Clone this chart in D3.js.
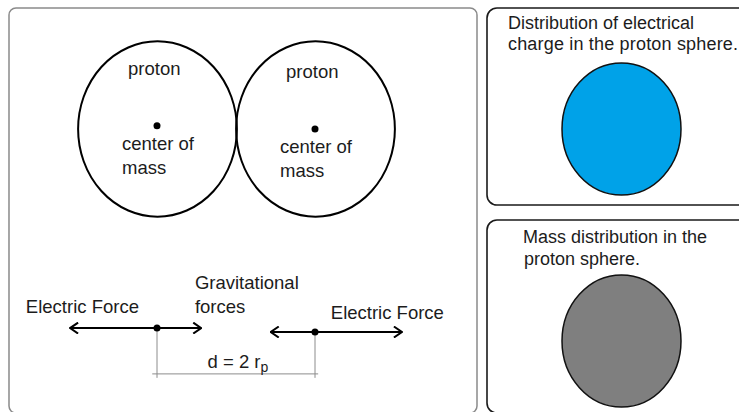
<!DOCTYPE html>
<html>
<head>
<meta charset="utf-8">
<script src="https://cdn.jsdelivr.net/npm/d3@7"></script>
<style>
html, body { margin: 0; padding: 0; background: #fff; overflow: hidden; }
text, tspan { font-family: "Liberation Sans", Arial, sans-serif; fill: #1c1c1c; }
</style>
</head>
<body>
<div id="chart"></div>
<script>
// values in units of the proton radius r_p
var protonCenters = [0, 2];
var protonDrop = [-0.04, 0.0];
var protonLabels = ["proton", "proton"];
var centerLabels = ["center of", "mass"];
var arrowFrom = [-1.1, 1.44];
var arrowTo = [0.56, 3.1];
var arrowLevel = [2.52, 2.57];
var forceLabels = ["Electric Force", "Gravitational", "forces", "Electric Force"];
var distanceText = "d = 2 r";
var distanceSub = "p";
var panelKeys = ["charge", "mass"];
var panelTitles = [
	["Distribution of electrical", "charge in the proton sphere."],
	["Mass distribution in the", "proton sphere."]
];

var W = 739, H = 412;
var svg = d3.select("#chart").append("svg").attr("width", W).attr("height", H);

var marker = svg.append("defs").append("marker")
	.attr("id", "head").attr("viewBox", "0 0 10 12")
	.attr("refX", 9).attr("refY", 6)
	.attr("markerWidth", 10).attr("markerHeight", 12)
	.attr("markerUnits", "userSpaceOnUse")
	.attr("orient", "auto-start-reverse");
marker.append("path").attr("d", "M1,0.5 L9,6 L1,11.5")
	.attr("fill", "none").attr("stroke", "#000").attr("stroke-width", 2);

// left panel
svg.append("rect").attr("x", 9).attr("y", 8).attr("width", 468).attr("height", 405)
	.attr("rx", 7).attr("fill", "none").attr("stroke", "#8a8a8a").attr("stroke-width", 1.5);

var x = d3.scaleLinear().domain([0, 2]).range([157, 315]);
var y = d3.scaleLinear().domain([0, 1]).range([129, 208]);
var ux = x(1) - x(0), uy = y(1) - y(0);

var protons = svg.append("g").selectAll("g").data(protonCenters).join("g");
protons.append("ellipse")
	.attr("cx", function(d){ return x(d) + 0.5; })
	.attr("cy", y(0))
	.attr("rx", ux * 1.005).attr("ry", uy * 1.11)
	.attr("fill", "none").attr("stroke", "#000").attr("stroke-width", 2);
protons.append("circle")
	.attr("cx", function(d){ return x(d); })
	.attr("cy", function(d, i){ return y(protonDrop[i]); })
	.attr("r", 3.5).attr("fill", "#000");
protons.append("text")
	.attr("x", function(d){ return x(d) - 29; })
	.attr("y", function(d, i){ return y(protonDrop[i]) - 51; })
	.attr("font-size", 18.5)
	.text(function(d, i){ return protonLabels[i]; });
protons.each(function(d, i){
	d3.select(this).selectAll("text.c").data(centerLabels).join("text")
		.attr("class", "c")
		.attr("x", x(d) - 35)
		.attr("y", function(t, j){ return y(protonDrop[i]) + 24 + j * 24; })
		.attr("font-size", 18.5)
		.text(function(t){ return t; });
});

// force arrows
var arrows = svg.append("g").selectAll("g").data(protonCenters).join("g");
arrows.append("line")
	.attr("x1", function(d, i){ return x(arrowFrom[i]); })
	.attr("x2", function(d, i){ return x(arrowTo[i]); })
	.attr("y1", function(d, i){ return y(arrowLevel[i]); })
	.attr("y2", function(d, i){ return y(arrowLevel[i]); })
	.attr("stroke", "#000").attr("stroke-width", 2)
	.attr("marker-start", "url(#head)").attr("marker-end", "url(#head)");
arrows.append("line")
	.attr("x1", function(d){ return x(d); })
	.attr("x2", function(d){ return x(d); })
	.attr("y1", function(d, i){ return y(arrowLevel[i]); })
	.attr("y2", y(3.15))
	.attr("stroke", "#8c8c8c").attr("stroke-width", 1);
arrows.append("circle")
	.attr("cx", function(d){ return x(d); })
	.attr("cy", function(d, i){ return y(arrowLevel[i]); })
	.attr("r", 3.5).attr("fill", "#000");

svg.append("line")
	.attr("x1", x(-0.06)).attr("x2", x(2.04))
	.attr("y1", y(3.1)).attr("y2", y(3.1))
	.attr("stroke", "#8c8c8c").attr("stroke-width", 1);

var forcePos = [[-1.66, 2.33], [0.48, 2.03], [0.48, 2.33], [2.2, 2.41]];
svg.append("g").selectAll("text").data(forceLabels).join("text")
	.attr("x", function(d, i){ return x(forcePos[i][0]); })
	.attr("y", function(d, i){ return y(forcePos[i][1]); })
	.attr("font-size", 18.5)
	.text(function(d){ return d; });

var dt = svg.append("text").attr("x", x(0.64)).attr("y", y(3.02)).attr("font-size", 18.5);
dt.append("tspan").text(distanceText);
dt.append("tspan").attr("dy", 4).attr("font-size", 14).attr("fill", "#1c1c1c").text(distanceSub);

// right panels
var fill = d3.scaleOrdinal().domain(panelKeys).range(["#00a2e8", "#7f7f7f"]);
var panelY = d3.scaleOrdinal().domain(panelKeys).range([8, 220]);

var panels = svg.append("g").selectAll("g").data(panelKeys).join("g")
	.attr("transform", function(d){ return "translate(487," + panelY(d) + ")"; });
panels.append("rect")
	.attr("width", 290).attr("height", function(d, i){ return i ? 193 : 197; })
	.attr("rx", 10).attr("fill", "none").attr("stroke", "#1a1a1a").attr("stroke-width", 1.6);
panels.each(function(d, i){
	d3.select(this).selectAll("text").data(panelTitles[i]).join("text")
		.attr("x", function(t, j){ return i ? 36 + j : 21; })
		.attr("y", function(t, j){ return i ? 23 + j * 22 : 21 + j * 21; })
		.attr("font-size", 18)
		.attr("letter-spacing", function(t, j){ return (!i && j) ? 0.18 : 0; })
		.text(function(t){ return t; });
});
panels.append("ellipse")
	.attr("cx", 134.5).attr("cy", 121)
	.attr("rx", 59.5).attr("ry", 66)
	.attr("fill", function(d){ return fill(d); })
	.attr("stroke", "#111").attr("stroke-width", 1.5);
</script>
</body>
</html>
